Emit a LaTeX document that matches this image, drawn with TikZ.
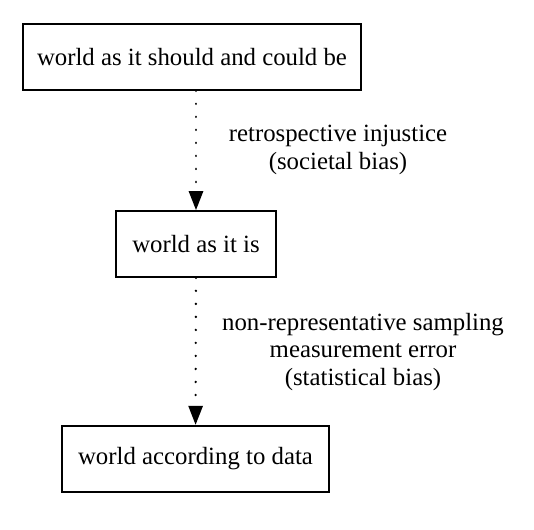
\documentclass[tikz,border=0pt]{standalone}
\usepackage{fontspec}
\setmainfont{Liberation Serif}
\usetikzlibrary{arrows.meta}

\begin{document}
\begin{tikzpicture}[x=0.5pt, y=-0.5pt, font=\fontsize{12.4}{13.6}\selectfont,
  world/.style={draw, line width=0.8pt, minimum height=33pt, inner sep=0pt},
  bias/.style={line width=1.3pt, line cap=round, dash pattern=on 0.01pt off 6.5pt, -{Triangle[length=9.5pt, width=7pt]}}]
	\useasboundingbox (0,0) rectangle (534,529);
	\node[world, minimum width=169pt] (ideal) at (192,57) {world as it should and could be};
	\node[world, minimum width=80pt] (real) at (196,244) {world as it is};
	\node[world, minimum width=133.5pt] (data) at (195.5,458.7) {world according to data};
	\node[align=center] (societal) at (338,150) {retrospective injustice\\(societal bias)};
	\node[align=center] (statistical) at (363,352) {non-representative sampling\\measurement error\\(statistical bias)};
	\draw[bias] (ideal.south -| real) -- (real);
	\draw[bias] (real) -- (data);
\end{tikzpicture}
\end{document}
